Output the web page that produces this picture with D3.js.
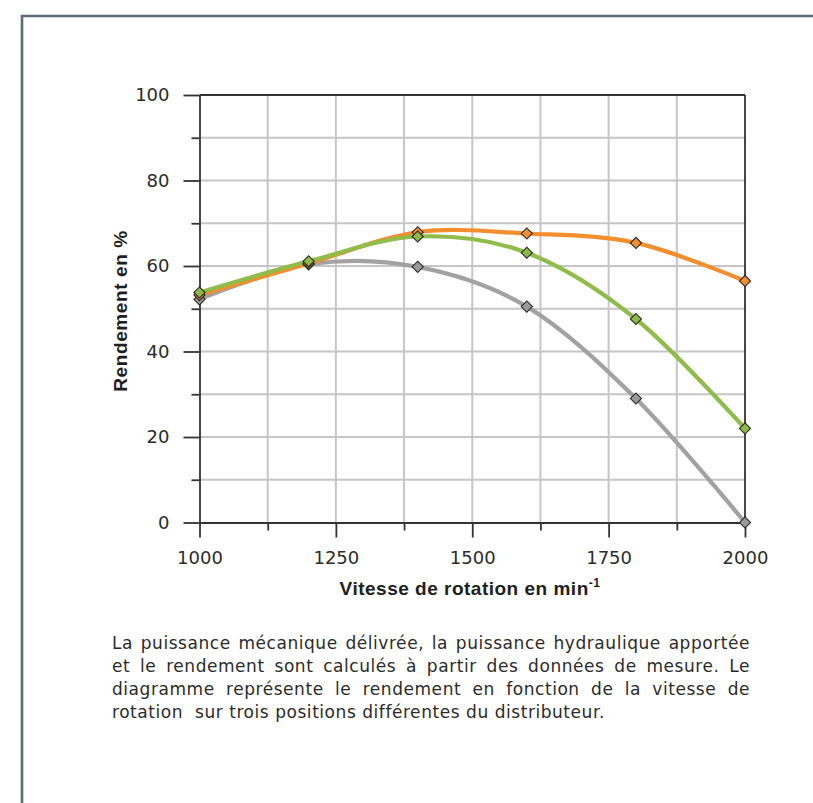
<!DOCTYPE html>
<html>
<head>
<meta charset="utf-8">
<script src="https://cdn.jsdelivr.net/npm/d3@7"></script>
<style>
  html, body { margin: 0; padding: 0; background: #ffffff; }
  svg { display: block; }
</style>
</head>
<body>
<svg id="chart" width="813" height="803"></svg>
<script>
// ---- data ----
const speeds = [1000, 1200, 1400, 1600, 1800, 2000];
const seriesNames = ["gris", "orange", "vert"];
const grayValues   = [52.2, 60.4, 59.8, 50.5, 29.0, 0.0];
const orangeValues = [53.2, 60.6, 67.9, 67.6, 65.4, 56.5];
const greenValues  = [53.8, 61.1, 66.9, 63.1, 47.6, 22.0];
const yTickValues = [0, 20, 40, 60, 80, 100];
const xTickValues = [1000, 1250, 1500, 1750, 2000];
const yAxisTitle = "Rendement en %";
const xAxisTitle = "Vitesse de rotation en min";
const xAxisTitleSup = "-1";
const paragraphLines = [
  "La puissance mécanique délivrée, la puissance hydraulique apportée",
  "et le rendement sont calculés à partir des données de mesure. Le",
  "diagramme représente le rendement en fonction de la vitesse de",
  "rotation  sur trois positions différentes du distributeur."
];

(function () {
const colors = { gris: "#a2a2a2", orange: "#f28e2c", vert: "#8fbc4a" };
const markerFill = { gris: "#9b9b9b", orange: "#f28e2c", vert: "#8cba46" };

const svg = d3.select("#chart");

// outer frame
svg.append("path")
  .attr("d", "M22,830 L22,16 L840,16")
  .attr("fill", "none")
  .attr("stroke", "#5b6b77")
  .attr("stroke-width", 2.6);

const pl = 199.5, pr = 745, pt = 95, pb = 522.5;
const x = d3.scaleLinear().domain([1000, 2000]).range([pl, pr]);
const y = d3.scaleLinear().domain([0, 100]).range([pb, pt]);

const g = svg.append("g");

// grid
const hGrid = d3.range(10, 100, 10);
const vGrid = d3.range(1125, 2000, 125);
g.append("g").selectAll("line").data(hGrid).join("line")
  .attr("x1", pl).attr("x2", pr)
  .attr("y1", d => y(d)).attr("y2", d => y(d))
  .attr("stroke", "#c6c6c6").attr("stroke-width", 2);
g.append("g").selectAll("line").data(vGrid).join("line")
  .attr("x1", d => x(d)).attr("x2", d => x(d))
  .attr("y1", pt).attr("y2", pb)
  .attr("stroke", "#c6c6c6").attr("stroke-width", 2);

// frame top and right
g.append("line").attr("x1", pl).attr("x2", pr).attr("y1", pt).attr("y2", pt)
  .attr("stroke", "#333").attr("stroke-width", 1.8);
g.append("line").attr("x1", pr).attr("x2", pr).attr("y1", pt).attr("y2", pb)
  .attr("stroke", "#333").attr("stroke-width", 1.8);

// minor ticks
g.append("g").attr("transform", `translate(${pl},0)`)
  .call(d3.axisLeft(y).tickValues(d3.range(10, 100, 20)).tickSize(8).tickSizeOuter(0).tickFormat(""))
  .call(s => s.select(".domain").remove())
  .call(s => s.selectAll("line").attr("stroke", "#333").attr("stroke-width", 1.8));
g.append("g").attr("transform", `translate(0,${pb})`)
  .call(d3.axisBottom(x).tickValues(d3.range(1125, 2000, 250)).tickSize(8).tickSizeOuter(0).tickFormat(""))
  .call(s => s.select(".domain").remove())
  .call(s => s.selectAll("line").attr("stroke", "#333").attr("stroke-width", 1.8));

// major axes
const yAx = g.append("g").attr("transform", `translate(${pl},0)`)
  .call(d3.axisLeft(y).tickValues(yTickValues).tickFormat(d3.format("d"))
    .tickSize(16).tickSizeOuter(0).tickPadding(14));
const xAx = g.append("g").attr("transform", `translate(0,${pb})`)
  .call(d3.axisBottom(x).tickValues(xTickValues).tickFormat(d3.format("d"))
    .tickSize(15).tickSizeOuter(0).tickPadding(14));
[yAx, xAx].forEach(a => {
  a.select(".domain").attr("stroke", "#333").attr("stroke-width", 1.8);
  a.selectAll(".tick line").attr("stroke", "#333").attr("stroke-width", 1.8);
  a.selectAll(".tick text").attr("fill", "#2b2b2b")
    .style("font-family", "'DejaVu Sans'").style("font-size", "18px");
});

// lines
const series = [
  { name: "gris", values: grayValues },
  { name: "orange", values: orangeValues },
  { name: "vert", values: greenValues }
];
const line = d3.line()
  .x((d, i) => x(speeds[i]))
  .y(d => y(d))
  .curve(d3.curveCardinal.tension(0));
g.append("g").selectAll("path").data(series).join("path")
  .attr("d", d => line(d.values))
  .attr("fill", "none")
  .attr("stroke", d => colors[d.name])
  .attr("stroke-width", 4.2)
  .attr("stroke-linejoin", "round");

// markers (diamonds)
const sym = d3.symbol(d3.symbolSquare, 62);
series.forEach(s => {
  g.append("g").selectAll("path").data(s.values).join("path")
    .attr("d", sym())
    .attr("transform", (d, i) => `translate(${x(speeds[i])},${y(d)}) rotate(45)`)
    .attr("fill", markerFill[s.name])
    .attr("stroke", "#2a2a2a")
    .attr("stroke-width", 1.1);
});

// axis titles
svg.append("text")
  .attr("transform", "translate(127,311) rotate(-90)")
  .attr("text-anchor", "middle")
  .style("font-family", "'Liberation Sans', Arial, sans-serif")
  .style("font-weight", "bold")
  .style("font-size", "19px")
  .style("letter-spacing", "0.6px")
  .attr("fill", "#1e1e1e")
  .text(yAxisTitle);

const xt = svg.append("text")
  .attr("x", 470).attr("y", 595)
  .attr("text-anchor", "middle")
  .style("font-family", "'Liberation Sans', Arial, sans-serif")
  .style("font-weight", "bold")
  .style("font-size", "19px")
  .style("letter-spacing", "0.5px")
  .attr("fill", "#1e1e1e");
xt.append("tspan").text(xAxisTitle);
xt.append("tspan").attr("dy", -8).style("font-size", "12px").text(xAxisTitleSup);

// paragraph (justified)
const pLeft = 112, pWidth = 638;
const baselines = [649, 672, 695, 718];
paragraphLines.forEach((txt, i) => {
  const t = svg.append("text")
    .attr("x", pLeft).attr("y", baselines[i])
    .attr("fill", "#2b2b2b")
    .style("font-family", "'DejaVu Sans'")
    .style("font-size", "17px")
    .style("letter-spacing", "0.55px")
    .style("white-space", "pre")
    .text(txt);
  if (i < paragraphLines.length - 1) {
    const len = t.node().getComputedTextLength();
    const spaces = (txt.match(/ /g) || []).length;
    if (spaces > 0) t.style("word-spacing", Math.max(0, (pWidth - len) / spaces) + "px");
  }
});
})();
</script>
</body>
</html>
